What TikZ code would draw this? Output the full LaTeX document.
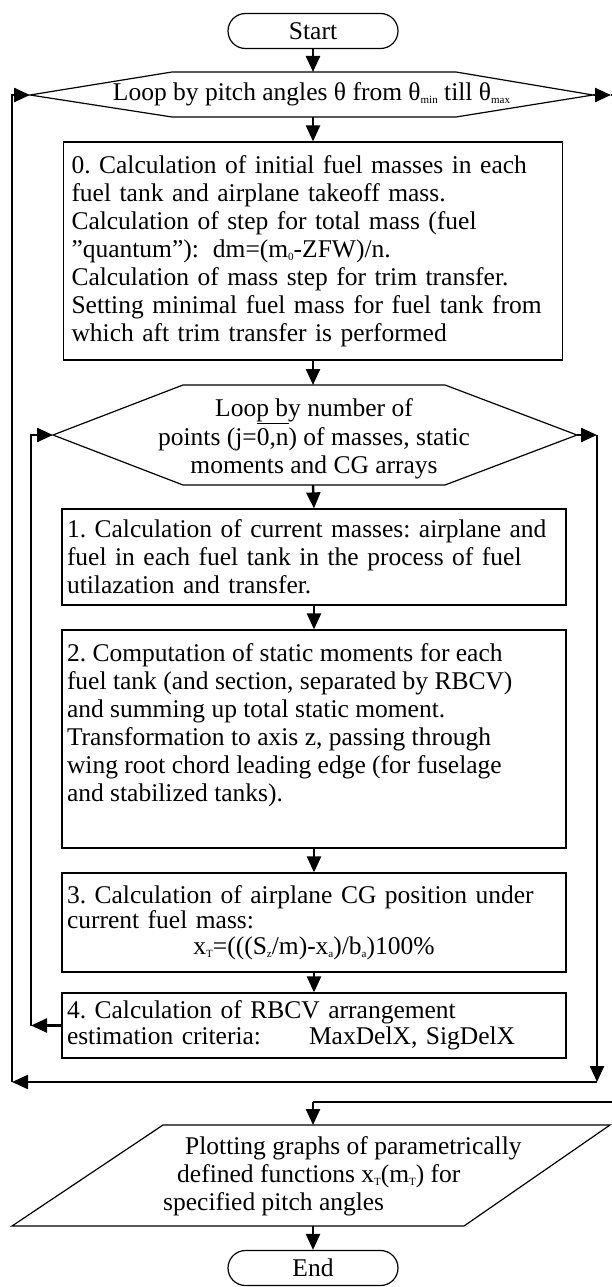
\documentclass[tikz,border=0pt]{standalone}
\usepackage{fontspec}
\setmainfont{Liberation Serif}
\usetikzlibrary{arrows.meta}

% small lowered index text
\newcommand{\sbs}[1]{\raisebox{-3pt}{\fontsize{11}{11}\selectfont #1}}
% bar drawn high above a group of characters
\newcommand{\hibar}[1]{\setbox0=\hbox{#1}\rlap{\raisebox{21.5pt}{\rule{\wd0}{1.2pt}}}\box0}

\begin{document}
\frenchspacing
\begin{tikzpicture}[x=1pt,y=-1pt,
  every node/.style={font=\fontsize{25.5}{28}\selectfont},
  term/.style={draw, line width=1.2pt, rounded corners=17.5pt,
    minimum width=170pt, minimum height=35pt, inner sep=0pt},
  blk/.style={draw, line width=1.2pt, inner sep=0pt, minimum width=504pt},
  outline/.style={line width=1.2pt, line join=miter},
  flow/.style={line width=2.4pt, -{Triangle[length=16pt,width=14pt]}},
  wire/.style={line width=2.4pt}
]
\useasboundingbox (0,0) rectangle (612,1287);

% ---------- terminals ----------
\node[term] (start) at (313,31) {Start};
\node[term] (end) at (313,1268) {End};

% ---------- outer loop (pitch angle) ----------
\draw[outline] (30,95) -- (172,72) -- (456,72) -- (593,95) -- (456,117) -- (172,117) -- cycle;
\node (loop1) at (311.5,94) {Loop by pitch angles θ from θ\sbs{min} till θ\sbs{max}};
\coordinate (l1n) at (313,72);
\coordinate (l1s) at (313,117);
\coordinate (l1w) at (30,95);
\coordinate (l1e) at (593,95);

% ---------- block 0 ----------
\node[blk, minimum width=499pt, minimum height=218pt, text width=483pt, align=left] (b0) at (313,251)
 {0. Calculation of initial fuel masses in each\\
  fuel tank and airplane takeoff mass.\\
  Calculation of step for total mass (fuel\\
  ”quantum”):\hspace*{14pt}dm=(m\sbs{0}-ZFW)/n.\\
  Calculation of mass step for trim transfer.\\
  Setting minimal fuel mass for fuel tank from\\
  which aft trim transfer is performed};

% ---------- inner loop (points) ----------
\draw[outline] (53,435) -- (183,385) -- (445,385) -- (577,435) -- (445,485) -- (183,485) -- cycle;
\node[align=center] (loop2) at (314,439)
 {Loop by number of\\
  points (j=\hibar{0,n}) of masses, static\\
  moments and CG arrays};
\coordinate (l2n) at (313,385);
\coordinate (l2s) at (313,485);
\coordinate (l2w) at (53,435);
\coordinate (l2e) at (577,435);

% ---------- blocks 1..4 ----------
\node[blk, minimum height=96pt, text width=494pt, align=left] (b1) at (314,557)
 {1. Calculation of current masses: airplane and\\
  fuel in each fuel tank in the process of fuel\\
  utilazation and transfer.};

\node[blk, minimum height=218pt] (b2) at (314,739)
 {\parbox[c][190pt][t]{494pt}{\raggedright
  2. Computation of static moments for each\\
  fuel tank (and section, separated by RBCV)\\
  and summing up total static moment.\\
  Transformation to axis z, passing through\\
  wing root chord leading edge (for fuselage\\
  and stabilized tanks).}};

\node[blk, minimum height=99pt, text width=494pt, align=left,
      font=\fontsize{25.5}{25.5}\selectfont] (b3) at (314,922.5)
 {3. Calculation of airplane CG position under\\
  current fuel mass:\\
  \makebox[\linewidth][c]{x\sbs{T}=(((S\sbs{z}/m)-x\sbs{a})/b\sbs{a})100\%}};

\node[blk, minimum height=65pt, text width=494pt, align=left,
      font=\fontsize{25.5}{26}\selectfont] (b4) at (314,1025.5)
 {4. Calculation of RBCV arrangement\\
  estimation criteria:\hspace*{48pt}MaxDelX, SigDelX};

% ---------- output ----------
\draw[outline] (163,1125) -- (610,1125) -- (464,1226) -- (12,1226) -- cycle;
\node[align=left, inner sep=0pt, anchor=west] (plot) at (163,1176)
 {\hspace*{22pt}Plotting graphs of parametrically\\
  \hspace*{14pt}defined functions x\sbs{T}(m\sbs{T}) for\\
  specified pitch angles};
\coordinate (ptop) at (313,1125);
\coordinate (pbot) at (313,1226);

% ---------- connectors ----------
\draw[flow] (start.south) -- (l1n);
\draw[flow] (l1s) -- (b0.north);
\draw[flow] (b0.south) -- (l2n);
\draw[flow] (l2s) -- (b1.north);
\draw[flow] (b1.south) -- (b2.north);
\draw[flow] (b2.south) -- (b3.north);
\draw[flow] (b3.south) -- (b4.north);

% inner loop return and exit
\coordinate (il) at (31,435);
\coordinate (ir) at (597,435);
\coordinate (irb) at (597,1082);
\draw[flow] (b4.west) -- (b4.west -| il);
\draw[flow] (b4.west -| il) -- (il) -- (l2w);
\draw[flow] (l2e) -- (ir);
\draw[flow] (ir) -- (irb);

% outer loop return
\coordinate (ol) at (12,95);
\draw[flow] (irb) -- (irb -| ol);
\draw[flow] (irb -| ol) -- (ol) -- (l1w);

% outer loop exit to the output block
\coordinate (oe) at (611,95);
\coordinate (ortop) at (615,95);
\coordinate (orbot) at (615,1102);
\coordinate (pj) at (313,1102);
\draw[flow] (l1e) -- (oe);
\draw[wire] (oe) -- (ortop) -- (orbot) -- (pj);
\draw[flow] (pj) -- (ptop);
\draw[flow] (pbot) -- (end.north);
\end{tikzpicture}
\end{document}
